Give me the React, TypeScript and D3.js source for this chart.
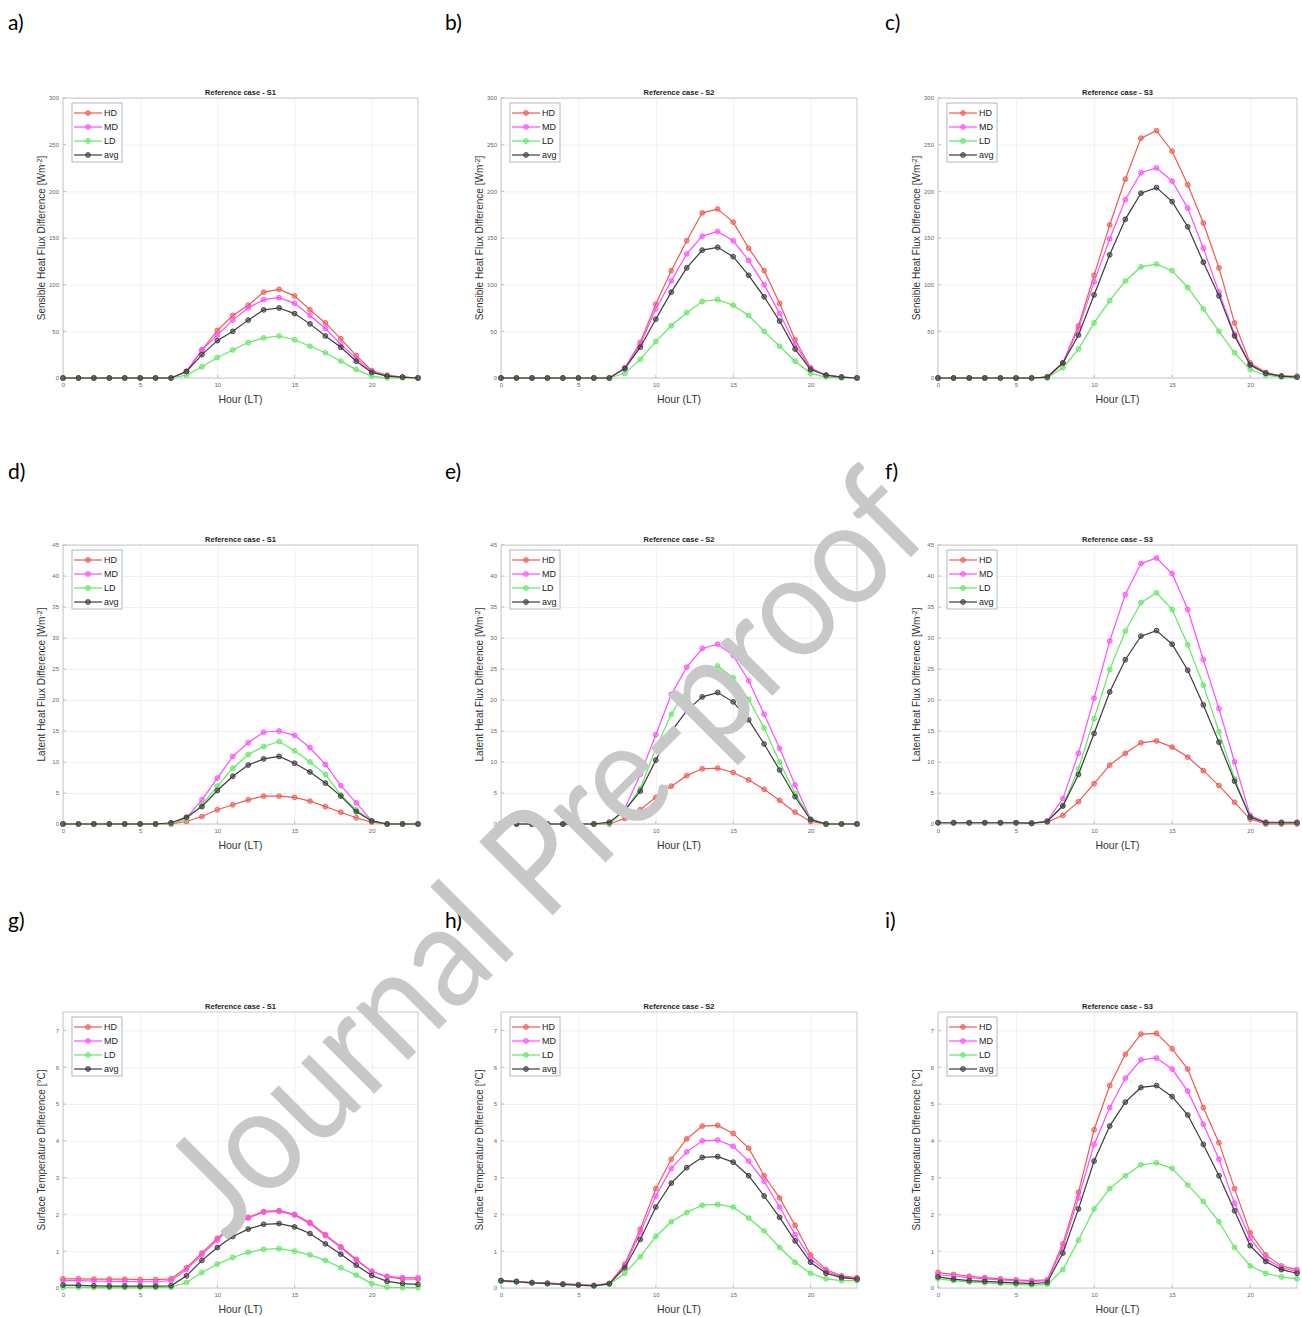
import React, { useEffect, useRef } from "react";
import * as d3 from "d3";

// hours of the day (LT)
const HOURS = [0, 1, 2, 3, 4, 5, 6, 7, 8, 9, 10, 11, 12, 13, 14, 15, 16, 17, 18, 19, 20, 21, 22, 23];
const SERIES = ["HD", "MD", "LD", "avg"];
const COLORS = ["#ee5a52", "#ff4cff", "#62e862", "#3c3c3c"];
const X_TICKS = [0, 5, 10, 15, 20];

// Sensible heat flux difference [W m-2]
const SH_S1_HD = [0, 0, 0, 0, 0, 0, 0, 0, 7, 30, 51, 67, 78, 92, 95, 88, 73, 59, 42, 24, 8, 3, 1, 0];
const SH_S1_MD = [0, 0, 0, 0, 0, 0, 0, 0, 7, 30, 46, 62, 75, 84, 86, 80, 67, 53, 36, 21, 7, 2, 1, 0];
const SH_S1_LD = [0, 0, 0, 0, 0, 0, 0, 0, 3, 12, 22, 30, 38, 43, 45, 41, 34, 27, 18, 9, 2, 0, 0, 0];
const SH_S1_AVG = [0, 0, 0, 0, 0, 0, 0, 0, 7, 25, 40, 50, 62, 73, 75, 69, 58, 45, 33, 18, 6, 2, 1, 0];

const SH_S2_HD = [0, 0, 0, 0, 0, 0, 0, 0, 11, 38, 79, 115, 147, 177, 181, 167, 139, 115, 80, 41, 11, 3, 1, 0];
const SH_S2_MD = [0, 0, 0, 0, 0, 0, 0, 0, 11, 36, 74, 104, 133, 152, 157, 147, 126, 100, 69, 36, 10, 3, 1, 0];
const SH_S2_LD = [0, 0, 0, 0, 0, 0, 0, 0, 5, 20, 39, 56, 70, 82, 84, 78, 67, 50, 34, 18, 5, 1, 0, 0];
const SH_S2_AVG = [0, 0, 0, 0, 0, 0, 0, 0, 10, 33, 63, 92, 118, 137, 140, 130, 110, 87, 61, 31, 9, 3, 1, 0];

const SH_S3_HD = [0, 0, 0, 0, 0, 0, 0, 1, 16, 56, 110, 164, 213, 257, 265, 243, 207, 166, 118, 59, 16, 6, 2, 2];
const SH_S3_MD = [0, 0, 0, 0, 0, 0, 0, 1, 16, 53, 103, 149, 191, 220, 225, 211, 182, 139, 92, 47, 14, 5, 2, 1];
const SH_S3_LD = [0, 0, 0, 0, 0, 0, 0, 0, 11, 31, 59, 83, 104, 119, 122, 115, 97, 74, 50, 27, 9, 3, 1, 1];
const SH_S3_AVG = [0, 0, 0, 0, 0, 0, 0, 1, 16, 46, 89, 132, 170, 198, 204, 189, 162, 124, 88, 45, 14, 5, 2, 1];

// Latent heat flux difference [W m-2]
const LH_S1_HD = [0, 0, 0, 0, 0, 0, 0, 0, 0.4, 1.2, 2.3, 3.1, 3.9, 4.5, 4.5, 4.3, 3.7, 2.8, 1.9, 1.0, 0.3, 0, 0, 0];
const LH_S1_MD = [0, 0, 0, 0, 0, 0, 0, 0, 1.0, 3.9, 7.4, 10.9, 13.1, 14.8, 15.0, 14.3, 12.3, 9.6, 6.2, 3.4, 0.5, 0, 0, 0];
const LH_S1_LD = [0, 0, 0, 0, 0, 0, 0, 0, 0.8, 3.1, 6.1, 9.0, 11.2, 12.5, 13.3, 11.8, 10.0, 8.0, 4.7, 2.3, 0.5, 0, 0, 0];
const LH_S1_AVG = [0, 0, 0, 0, 0, 0, 0, 0.2, 1.1, 2.8, 5.4, 7.7, 9.5, 10.5, 10.9, 9.8, 8.4, 6.6, 4.5, 2.0, 0.5, 0, 0, 0];

const LH_S2_HD = [0, 0, 0, 0, 0, 0, 0, 0, 0.9, 2.3, 4.3, 6.1, 7.8, 8.9, 9.0, 8.3, 7.1, 5.6, 3.8, 1.9, 0.4, 0, 0, 0];
const LH_S2_MD = [0, 0, 0, 0, 0, 0, 0, 0, 2.5, 8.0, 14.4, 20.9, 25.3, 28.3, 29.0, 27.2, 23.1, 17.7, 12.2, 6.3, 0.8, 0, 0, 0];
const LH_S2_LD = [0, 0, 0, 0, 0, 0, 0, 0, 2.2, 5.7, 12.2, 17.7, 21.7, 24.2, 25.5, 23.6, 20.1, 15.5, 10.0, 4.9, 0.8, 0, 0, 0];
const LH_S2_AVG = [0, 0, 0, 0, 0, 0, 0, 0.3, 2.2, 5.3, 10.3, 14.9, 18.3, 20.5, 21.2, 19.7, 16.8, 12.9, 8.7, 4.4, 0.7, 0, 0, 0];

const LH_S3_HD = [0.2, 0.2, 0.2, 0.2, 0.2, 0.2, 0.2, 0.3, 1.4, 3.6, 6.5, 9.5, 11.4, 13.1, 13.4, 12.4, 10.8, 8.6, 6.2, 3.5, 0.8, 0, 0, 0];
const LH_S3_MD = [0.2, 0.2, 0.2, 0.2, 0.2, 0.2, 0.1, 0.5, 4.1, 11.4, 20.3, 29.5, 37.0, 42.0, 42.9, 40.4, 34.6, 26.5, 18.6, 10.0, 1.4, 0.3, 0.3, 0.3];
const LH_S3_LD = [0.2, 0.2, 0.2, 0.2, 0.2, 0.2, 0.1, 0.4, 3.0, 8.9, 17.0, 24.9, 31.1, 35.7, 37.3, 34.6, 28.9, 22.4, 14.9, 7.3, 1.1, 0.2, 0.2, 0.2];
const LH_S3_AVG = [0.2, 0.2, 0.2, 0.2, 0.2, 0.2, 0.1, 0.4, 2.9, 8.0, 14.6, 21.3, 26.5, 30.3, 31.2, 29.0, 24.8, 19.2, 13.2, 6.9, 1.1, 0.2, 0.2, 0.2];

// Surface temperature difference [degC]
const ST_S1_HD = [0.25, 0.25, 0.24, 0.24, 0.24, 0.23, 0.23, 0.25, 0.55, 0.95, 1.35, 1.7, 1.92, 2.08, 2.1, 2.0, 1.78, 1.45, 1.12, 0.78, 0.45, 0.3, 0.25, 0.24];
const ST_S1_MD = [0.2, 0.2, 0.19, 0.18, 0.18, 0.17, 0.17, 0.2, 0.5, 0.9, 1.3, 1.68, 1.9, 2.06, 2.08, 1.98, 1.75, 1.42, 1.1, 0.75, 0.45, 0.32, 0.28, 0.28];
const ST_S1_LD = [0.02, 0.02, 0.01, 0.01, 0.01, 0.01, 0.01, 0.02, 0.15, 0.42, 0.65, 0.83, 0.97, 1.05, 1.07, 1.0, 0.9, 0.75, 0.55, 0.35, 0.12, 0.02, 0.01, 0.01];
const ST_S1_AVG = [0.08, 0.07, 0.06, 0.05, 0.05, 0.05, 0.05, 0.06, 0.33, 0.75, 1.1, 1.4, 1.6, 1.73, 1.75, 1.66, 1.48, 1.2, 0.92, 0.62, 0.34, 0.18, 0.12, 0.1];

const ST_S2_HD = [0.2, 0.18, 0.15, 0.13, 0.11, 0.09, 0.07, 0.12, 0.65, 1.6, 2.7, 3.5, 4.05, 4.4, 4.42, 4.2, 3.8, 3.05, 2.45, 1.7, 0.9, 0.5, 0.33, 0.28];
const ST_S2_MD = [0.2, 0.18, 0.15, 0.13, 0.11, 0.09, 0.07, 0.12, 0.6, 1.5, 2.5, 3.25, 3.7, 4.0, 4.02, 3.85, 3.45, 2.9, 2.2, 1.45, 0.8, 0.45, 0.3, 0.25];
const ST_S2_LD = [0.18, 0.16, 0.14, 0.12, 0.1, 0.08, 0.06, 0.1, 0.4, 0.85, 1.4, 1.8, 2.05, 2.25, 2.27, 2.2, 1.9, 1.55, 1.1, 0.7, 0.4, 0.25, 0.2, 0.2];
const ST_S2_AVG = [0.2, 0.17, 0.14, 0.12, 0.1, 0.08, 0.06, 0.12, 0.55, 1.32, 2.2, 2.85, 3.27, 3.55, 3.57, 3.42, 3.05, 2.5, 1.92, 1.28, 0.7, 0.4, 0.28, 0.24];

const ST_S3_HD = [0.42, 0.37, 0.32, 0.28, 0.25, 0.22, 0.2, 0.22, 1.2, 2.6, 4.3, 5.5, 6.35, 6.9, 6.92, 6.5, 5.95, 4.9, 3.95, 2.7, 1.5, 0.9, 0.6, 0.5];
const ST_S3_MD = [0.36, 0.32, 0.28, 0.25, 0.22, 0.2, 0.18, 0.2, 1.1, 2.45, 3.9, 4.9, 5.7, 6.2, 6.25, 5.95, 5.35, 4.45, 3.5, 2.3, 1.35, 0.8, 0.55, 0.45];
const ST_S3_LD = [0.25, 0.2, 0.16, 0.14, 0.12, 0.1, 0.08, 0.1, 0.5, 1.3, 2.15, 2.7, 3.05, 3.35, 3.4, 3.25, 2.8, 2.35, 1.8, 1.1, 0.6, 0.4, 0.3, 0.25];
const ST_S3_AVG = [0.3, 0.24, 0.2, 0.18, 0.16, 0.14, 0.12, 0.15, 0.95, 2.15, 3.45, 4.4, 5.05, 5.45, 5.5, 5.2, 4.7, 3.9, 3.05, 2.1, 1.15, 0.72, 0.5, 0.4];

const TITLES = ["Reference case - S1", "Reference case - S2", "Reference case - S3"];
const LETTERS = ["a)", "b)", "c)", "d)", "e)", "f)", "g)", "h)", "i)"];

// layout of the 3x3 grid (page px)
const COLS = [[63, 418], [501, 857], [938, 1297]];
const ROWS = [[98, 378], [545, 824], [1012, 1288]];
const LETTER_X = [8, 445, 885];
const LETTER_Y = [30, 479, 928];

const ROW_SPECS = [
  { domain: [0, 300], ticks: [0, 50, 100, 150, 200, 250, 300], label: "Sensible Heat Flux Difference [Wm", unit: "-2", tail: "]",
    data: [[SH_S1_HD, SH_S1_MD, SH_S1_LD, SH_S1_AVG], [SH_S2_HD, SH_S2_MD, SH_S2_LD, SH_S2_AVG], [SH_S3_HD, SH_S3_MD, SH_S3_LD, SH_S3_AVG]] },
  { domain: [0, 45], ticks: [0, 5, 10, 15, 20, 25, 30, 35, 40, 45], label: "Latent Heat Flux Difference [Wm", unit: "-2", tail: "]",
    data: [[LH_S1_HD, LH_S1_MD, LH_S1_LD, LH_S1_AVG], [LH_S2_HD, LH_S2_MD, LH_S2_LD, LH_S2_AVG], [LH_S3_HD, LH_S3_MD, LH_S3_LD, LH_S3_AVG]] },
  { domain: [0, 7.5], ticks: [0, 1, 2, 3, 4, 5, 6, 7], label: "Surface Temperature Difference [°C]", unit: "", tail: "",
    data: [[ST_S1_HD, ST_S1_MD, ST_S1_LD, ST_S1_AVG], [ST_S2_HD, ST_S2_MD, ST_S2_LD, ST_S2_AVG], [ST_S3_HD, ST_S3_MD, ST_S3_LD, ST_S3_AVG]] },
];

const AX_FONT = "'Liberation Sans', Arial, sans-serif";

function drawPanel(svg: any, r: number, c: number) {
  const spec = ROW_SPECS[r];
  const [x0, x1] = COLS[c];
  const [y0, y1] = ROWS[r];
  const w = x1 - x0, h = y1 - y0;

  const xScale = d3.scaleLinear().domain([0, 23]).range([x0, x1]);
  const yScale = d3.scaleLinear().domain(spec.domain).range([y1, y0]);

  const g = svg.append("g");
  g.append("rect").attr("x", x0).attr("y", y0).attr("width", w).attr("height", h).attr("fill", "#fff");

  // grid via axes
  const xAxis = d3.axisBottom(xScale).tickValues(X_TICKS).tickSize(-h).tickPadding(5).tickFormat(d3.format("d"));
  const yAxis = d3.axisLeft(yScale).tickValues(spec.ticks).tickSize(-w).tickPadding(4).tickFormat((d: any) => String(d));

  const gx = g.append("g").attr("transform", `translate(0, ${y1})`).call(xAxis);
  const gy = g.append("g").attr("transform", `translate(${x0}, 0)`).call(yAxis);
  [gx, gy].forEach((ax) => {
    ax.select(".domain").remove();
    ax.selectAll(".tick line").attr("stroke", "#ececec").attr("stroke-width", 0.8);
    ax.selectAll(".tick text").attr("fill", "#666").attr("font-size", 6).attr("font-family", AX_FONT);
  });

  // small inward tick marks
  g.selectAll(".xt").data(X_TICKS).join("line")
    .attr("x1", (d: number) => xScale(d)).attr("x2", (d: number) => xScale(d))
    .attr("y1", y1).attr("y2", y1 - 3).attr("stroke", "#999").attr("stroke-width", 0.6);
  g.selectAll(".yt").data(spec.ticks).join("line")
    .attr("x1", x0).attr("x2", x0 + 3)
    .attr("y1", (d: number) => yScale(d)).attr("y2", (d: number) => yScale(d)).attr("stroke", "#999").attr("stroke-width", 0.6);

  // frame
  g.append("rect").attr("x", x0).attr("y", y0).attr("width", w).attr("height", h)
    .attr("fill", "none").attr("stroke", "#bdbdbd").attr("stroke-width", 0.8);

  const line = d3.line<number>().x((_d, i) => xScale(HOURS[i])).y((d) => yScale(d));
  const series = spec.data[c];
  series.forEach((vals, k) => {
    g.append("path").attr("d", line(vals)).attr("fill", "none").attr("stroke", COLORS[k]).attr("stroke-width", 1.2);
    g.selectAll(null).data(vals).join("circle")
      .attr("cx", (_d: number, i: number) => xScale(HOURS[i])).attr("cy", (d: number) => yScale(d))
      .attr("r", 2.4).attr("fill", COLORS[k]).attr("fill-opacity", 0.55)
      .attr("stroke", COLORS[k]).attr("stroke-width", 0.9);
  });

  // legend
  const lx = x0 + 9, ly = y0 + 5;
  g.append("rect").attr("x", lx).attr("y", ly).attr("width", 50).attr("height", 59)
    .attr("fill", "#fff").attr("stroke", "#8a9ab0").attr("stroke-width", 0.7);
  SERIES.forEach((s, k) => {
    const yy = ly + 10 + k * 14;
    g.append("line").attr("x1", lx + 2).attr("x2", lx + 30).attr("y1", yy).attr("y2", yy)
      .attr("stroke", COLORS[k]).attr("stroke-width", 1.2);
    g.append("circle").attr("cx", lx + 16).attr("cy", yy).attr("r", 2.4)
      .attr("fill", COLORS[k]).attr("fill-opacity", 0.55).attr("stroke", COLORS[k]).attr("stroke-width", 0.9);
    g.append("text").attr("x", lx + 32).attr("y", yy + 3.2).attr("font-size", 9)
      .attr("font-family", AX_FONT).attr("fill", "#222").text(s);
  });

  // title
  g.append("text").attr("x", (x0 + x1) / 2).attr("y", y0 - 3).attr("text-anchor", "middle")
    .attr("font-size", 7.5).attr("font-weight", "bold").attr("font-family", AX_FONT).attr("fill", "#222")
    .text(TITLES[c]);

  // x label
  g.append("text").attr("x", (x0 + x1) / 2).attr("y", y1 + 25).attr("text-anchor", "middle")
    .attr("font-size", 10.5).attr("font-family", AX_FONT).attr("fill", "#333").text("Hour (LT)");

  // y label
  const yl = g.append("text").attr("transform", `translate(${x0 - 18}, ${(y0 + y1) / 2}) rotate(-90)`)
    .attr("text-anchor", "middle").attr("font-size", 10).attr("font-family", AX_FONT).attr("fill", "#333");
  yl.append("tspan").text(spec.label);
  if (spec.unit) {
    yl.append("tspan").attr("baseline-shift", "super").attr("font-size", 7).text(spec.unit);
    yl.append("tspan").text(spec.tail);
  }
}

export default function App() {
  const ref = useRef<SVGSVGElement>(null);

  useEffect(() => {
    const svg = d3.select(ref.current);
    svg.selectAll("*").remove();
    svg.append("rect").attr("width", 1302).attr("height", 1317).attr("fill", "#fff");

    for (let r = 0; r < 3; r++) {
      for (let c = 0; c < 3; c++) {
        drawPanel(svg, r, c);
        svg.append("text").attr("x", LETTER_X[c]).attr("y", LETTER_Y[r])
          .attr("font-size", 21).attr("font-family", "Lato, 'Open Sans', sans-serif").attr("fill", "#000")
          .text(LETTERS[r * 3 + c]);
      }
    }

    // watermark
    svg.append("text").attr("transform", "translate(580, 888) rotate(-45)")
      .attr("text-anchor", "middle").attr("font-size", 145).attr("font-family", "Lato, 'Liberation Sans', sans-serif")
      .attr("fill", "#c8c8c8").attr("textLength", 1000).attr("lengthAdjust", "spacingAndGlyphs")
      .text("Journal Pre-proof");
  }, []);

  return (
    <svg ref={ref} width={1302} height={1317} style={{ position: "absolute", left: 0, top: 0, display: "block" }} />
  );
}
